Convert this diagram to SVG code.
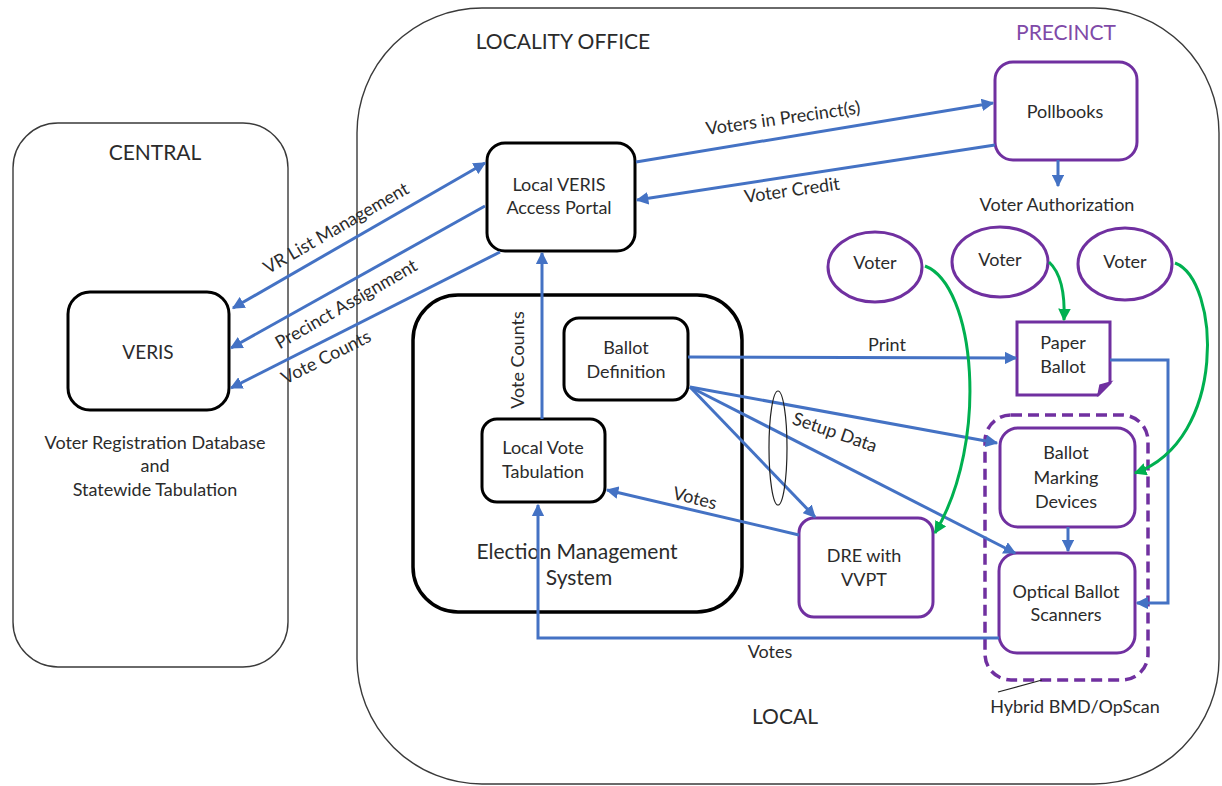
<svg xmlns="http://www.w3.org/2000/svg" width="1222" height="786" viewBox="0 0 1222 786">
<defs>
<style>
text{font-family:Lato,"Open Sans","Liberation Sans",sans-serif;fill:#2b2b2b;text-anchor:middle;font-size:18px}
.big{font-size:21px}
.cont{fill:none;stroke:#3a3a3a;stroke-width:1.4}
.bk{fill:#fff;stroke:#000;stroke-width:3}
.pu{fill:#fff;stroke:#7030A0;stroke-width:3}
.ar{fill:none;stroke:#4472C4;stroke-width:3}
.gr{fill:none;stroke:#00B050;stroke-width:3}
</style>
<marker id="ab" viewBox="0 0 10 10" refX="9" refY="5" markerWidth="4.2" markerHeight="4.2" orient="auto-start-reverse"><path d="M0,0 L10,5 L0,10 z" fill="#4472C4"/></marker>
<marker id="ag" viewBox="0 0 10 10" refX="9" refY="5" markerWidth="4.2" markerHeight="4.2" orient="auto"><path d="M0,0 L10,5 L0,10 z" fill="#00B050"/></marker>
</defs>

<g id="central">
<rect class="cont" x="13" y="123" width="275" height="544" rx="45"/>
<text class="big" x="155" y="153" dy="0.35em">CENTRAL</text>
<text x="155" y="443" dy="0.35em">Voter Registration Database</text>
<text x="155" y="466" dy="0.35em">and</text>
<text x="155" y="490" dy="0.35em">Statewide Tabulation</text>
</g>

<g id="locality">
<rect class="cont" x="357" y="8" width="862" height="776" rx="125"/>
<text class="big" x="563" y="42" dy="0.35em">LOCALITY OFFICE</text>
<text class="big" x="785" y="717" dy="0.35em">LOCAL</text>
</g>

<g id="precinct-label">
<text class="big" x="1066" y="33" dy="0.35em" style="fill:#7F4AA8">PRECINCT</text>
</g>

<g id="ems">
<rect x="413" y="295" width="329" height="317" rx="45" fill="none" stroke="#000" stroke-width="3.5"/>
<text class="big" x="577" y="552" dy="0.35em">Election Management</text>
<text class="big" x="579" y="578" dy="0.35em">System</text>
</g>

<g id="hybrid">
<rect x="985" y="415" width="163" height="265" rx="26" fill="none" stroke="#7030A0" stroke-width="3.5" stroke-dasharray="11,6"/>
<line x1="998" y1="692" x2="1042" y2="680" stroke="#222" stroke-width="1.2"/>
<text x="1075" y="707" dy="0.35em">Hybrid BMD/OpScan</text>
</g>

<g id="veris">
<rect class="bk" x="68" y="292" width="161" height="118" rx="22"/>
<text x="148" y="352" dy="0.35em" style="font-size:19px">VERIS</text>
</g>

<g id="local-veris">
<rect class="bk" x="487" y="143" width="148" height="108" rx="18"/>
<text x="559" y="185" dy="0.35em">Local VERIS</text>
<text x="559" y="208" dy="0.35em">Access Portal</text>
</g>

<g id="ballot-definition">
<rect class="bk" x="564" y="318" width="124" height="82" rx="15"/>
<text x="626" y="348" dy="0.35em">Ballot</text>
<text x="626" y="372" dy="0.35em">Definition</text>
</g>

<g id="local-vote-tabulation">
<rect class="bk" x="482" y="419" width="123" height="83" rx="15"/>
<text x="543" y="448" dy="0.35em">Local Vote</text>
<text x="543" y="472" dy="0.35em">Tabulation</text>
</g>

<g id="pollbooks">
<rect class="pu" x="995" y="62" width="142" height="98" rx="18"/>
<text x="1065" y="112" dy="0.35em">Pollbooks</text>
</g>

<g id="voter-authorization">
<text x="1057" y="205" dy="0.35em">Voter Authorization</text>
</g>

<g id="voter1">
<ellipse class="pu" cx="875" cy="267" rx="47" ry="35"/>
<text x="875" y="263" dy="0.35em">Voter</text>
</g>
<g id="voter2">
<ellipse class="pu" cx="1000" cy="262" rx="48" ry="35"/>
<text x="1000" y="260" dy="0.35em">Voter</text>
</g>
<g id="voter3">
<ellipse class="pu" cx="1125" cy="264" rx="47" ry="36"/>
<text x="1125" y="262" dy="0.35em">Voter</text>
</g>

<g id="paper-ballot">
<path d="M1017,322 H1110 V383 L1098,395 H1017 Z" fill="#fff" stroke="#7030A0" stroke-width="3"/>
<path d="M1098,395 L1111,382 L1100,385 Z" fill="#7030A0" stroke="#7030A0" stroke-width="1.5"/>
<text x="1063" y="343" dy="0.35em">Paper</text>
<text x="1063" y="367" dy="0.35em">Ballot</text>
</g>

<g id="dre">
<rect class="pu" x="799" y="518" width="134" height="99" rx="15"/>
<text x="864" y="556" dy="0.35em">DRE with</text>
<text x="864" y="580" dy="0.35em">VVPT</text>
</g>

<g id="bmd">
<rect class="pu" x="1000" y="428" width="135" height="99" rx="18"/>
<text x="1066" y="453" dy="0.35em">Ballot</text>
<text x="1066" y="478" dy="0.35em">Marking</text>
<text x="1066" y="502" dy="0.35em">Devices</text>
</g>

<g id="optical">
<rect class="pu" x="999" y="553" width="136" height="100" rx="18"/>
<text x="1066" y="592" dy="0.35em">Optical Ballot</text>
<text x="1066" y="615" dy="0.35em">Scanners</text>
</g>

<g id="connectors">
<line class="ar" x1="233" y1="308" x2="485" y2="163" marker-start="url(#ab)" marker-end="url(#ab)"/>
<line class="ar" x1="485" y1="206" x2="231" y2="348" marker-end="url(#ab)"/>
<line class="ar" x1="500" y1="252" x2="231" y2="388" marker-end="url(#ab)"/>
<line class="ar" x1="636" y1="162" x2="993" y2="103" marker-end="url(#ab)"/>
<line class="ar" x1="995" y1="145" x2="637" y2="200" marker-end="url(#ab)"/>
<line class="ar" x1="1058" y1="160" x2="1058" y2="186" marker-end="url(#ab)"/>
<line class="ar" x1="542" y1="419" x2="542" y2="253" marker-end="url(#ab)"/>
<line class="ar" x1="688" y1="357" x2="1016" y2="358" marker-end="url(#ab)"/>
<line class="ar" x1="690" y1="387" x2="997" y2="443" marker-end="url(#ab)"/>
<line class="ar" x1="690" y1="387" x2="1015" y2="553" marker-end="url(#ab)"/>
<line class="ar" x1="690" y1="387" x2="815" y2="517" marker-end="url(#ab)"/>
<line class="ar" x1="799" y1="535" x2="607" y2="490" marker-end="url(#ab)"/>
<polyline class="ar" points="999,638 538,638 538,505" marker-end="url(#ab)"/>
<polyline class="ar" points="1110,360 1168,360 1168,603 1137,603" marker-end="url(#ab)"/>
<line class="ar" x1="1068" y1="527" x2="1068" y2="551" marker-end="url(#ab)"/>
<path class="gr" d="M925,266 C975,285 990,440 935,533" marker-end="url(#ag)"/>
<path class="gr" d="M1049,262 C1062,274 1065,296 1064,320" marker-end="url(#ag)"/>
<path class="gr" d="M1175,263 C1220,280 1228,440 1135,473" marker-end="url(#ag)"/>
<ellipse cx="778" cy="448" rx="9" ry="57" fill="none" stroke="#222" stroke-width="1.2"/>
<text dy="0.35em" transform="translate(336,228) rotate(-30)">VR List Management</text>
<text dy="0.35em" transform="translate(346,304) rotate(-30)">Precinct Assignment</text>
<text dy="0.35em" transform="translate(326,357) rotate(-27)">Vote Counts</text>
<text dy="0.35em" transform="translate(783,118) rotate(-8)">Voters in Precinct(s)</text>
<text dy="0.35em" transform="translate(792,190) rotate(-8)">Voter Credit</text>
<text dy="0.35em" transform="translate(518,360) rotate(-90)">Vote Counts</text>
<text x="887" y="345" dy="0.35em">Print</text>
<text dy="0.35em" transform="translate(835,432) rotate(19)">Setup Data</text>
<text dy="0.35em" transform="translate(695,498) rotate(14)">Votes</text>
<text x="770" y="652" dy="0.35em">Votes</text>
</g>
</svg>
